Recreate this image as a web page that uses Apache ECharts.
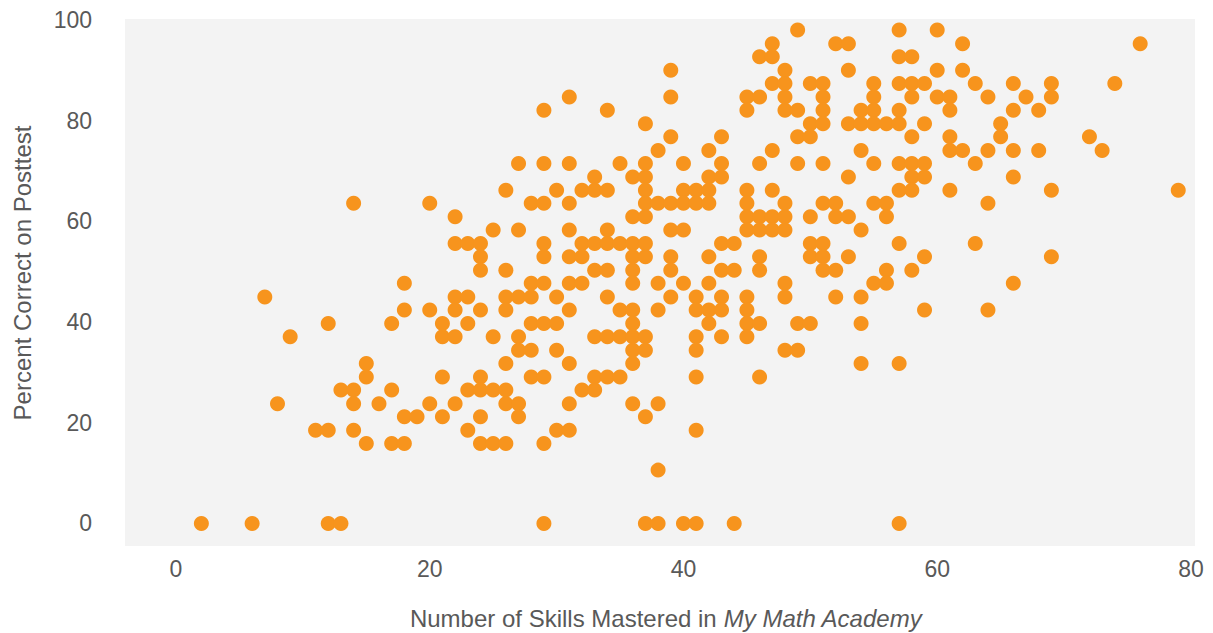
<!DOCTYPE html>
<html>
<head>
<meta charset="utf-8">
<script src="https://cdn.jsdelivr.net/npm/echarts@6/dist/echarts.min.js"></script>
<style>
html,body{margin:0;padding:0;background:#fff;}
#chart{width:1213px;height:633px;}
</style>
</head>
<body>
<div id="chart"></div>
<script>
// Number of skills mastered (x) for each student, grouped by score row
const skills = [
  49,57,60,
  47,52,53,62,76,
  46,47,57,58,
  39,48,53,60,62,
  47,48,50,51,55,57,58,59,63,66,69,74,
  31,39,45,46,48,51,55,58,60,61,64,67,69,
  29,34,45,48,49,51,54,55,57,61,66,68,
  37,50,51,53,54,55,56,57,59,65,
  39,43,49,50,58,61,65,72,
  38,42,47,54,61,62,64,66,68,73,
  27,29,31,35,37,40,43,46,49,51,55,57,58,59,63,
  33,36,37,42,43,53,58,59,66,
  26,30,32,33,34,37,40,41,42,45,47,57,58,61,69,79,
  14,20,28,29,31,37,38,39,40,41,42,45,48,51,52,55,56,64,
  22,36,37,45,46,47,48,50,52,53,56,
  25,27,31,34,39,40,45,46,47,48,54,
  22,23,24,29,32,33,34,35,36,37,43,44,50,51,57,63,
  24,29,31,32,36,37,39,42,46,50,51,53,59,69,
  24,26,33,34,36,39,43,44,46,51,52,56,58,
  18,28,29,31,32,36,38,40,42,48,55,56,66,
  7,22,23,26,27,28,30,34,39,41,43,45,48,52,54,
  18,20,22,24,26,31,35,36,38,41,42,43,45,59,64,
  12,17,21,23,28,29,30,36,42,45,46,49,50,54,
  9,21,22,25,27,33,34,35,36,37,41,43,45,
  27,28,30,36,37,41,48,49,
  15,26,31,36,54,57,
  15,21,24,28,29,33,34,35,41,46,
  13,14,17,23,24,25,26,32,33,
  8,14,16,20,22,26,27,31,36,38,
  18,19,21,24,27,37,
  11,12,14,23,30,31,41,
  15,17,18,24,25,26,29,
  38,
  2,6,12,13,29,37,38,40,41,44,57
];
// Percent correct on posttest, paired with skills above
const percent = [
  98.0,98.0,98.0,
  95.3,95.3,95.3,95.3,95.3,
  92.7,92.7,92.7,92.7,
  90.0,90.0,90.0,90.0,90.0,
  87.4,87.4,87.4,87.4,87.4,87.4,87.4,87.4,87.4,87.4,87.4,87.4,
  84.7,84.7,84.7,84.7,84.7,84.7,84.7,84.7,84.7,84.7,84.7,84.7,84.7,
  82.1,82.1,82.1,82.1,82.1,82.1,82.1,82.1,82.1,82.1,82.1,82.1,
  79.4,79.4,79.4,79.4,79.4,79.4,79.4,79.4,79.4,79.4,
  76.8,76.8,76.8,76.8,76.8,76.8,76.8,76.8,
  74.1,74.1,74.1,74.1,74.1,74.1,74.1,74.1,74.1,74.1,
  71.5,71.5,71.5,71.5,71.5,71.5,71.5,71.5,71.5,71.5,71.5,71.5,71.5,71.5,71.5,
  68.8,68.8,68.8,68.8,68.8,68.8,68.8,68.8,68.8,
  66.2,66.2,66.2,66.2,66.2,66.2,66.2,66.2,66.2,66.2,66.2,66.2,66.2,66.2,66.2,66.2,
  63.6,63.6,63.6,63.6,63.6,63.6,63.6,63.6,63.6,63.6,63.6,63.6,63.6,63.6,63.6,63.6,63.6,63.6,
  60.9,60.9,60.9,60.9,60.9,60.9,60.9,60.9,60.9,60.9,60.9,
  58.3,58.3,58.3,58.3,58.3,58.3,58.3,58.3,58.3,58.3,58.3,
  55.6,55.6,55.6,55.6,55.6,55.6,55.6,55.6,55.6,55.6,55.6,55.6,55.6,55.6,55.6,55.6,
  53.0,53.0,53.0,53.0,53.0,53.0,53.0,53.0,53.0,53.0,53.0,53.0,53.0,53.0,
  50.3,50.3,50.3,50.3,50.3,50.3,50.3,50.3,50.3,50.3,50.3,50.3,50.3,
  47.7,47.7,47.7,47.7,47.7,47.7,47.7,47.7,47.7,47.7,47.7,47.7,47.7,
  45.0,45.0,45.0,45.0,45.0,45.0,45.0,45.0,45.0,45.0,45.0,45.0,45.0,45.0,45.0,
  42.4,42.4,42.4,42.4,42.4,42.4,42.4,42.4,42.4,42.4,42.4,42.4,42.4,42.4,42.4,
  39.7,39.7,39.7,39.7,39.7,39.7,39.7,39.7,39.7,39.7,39.7,39.7,39.7,39.7,
  37.1,37.1,37.1,37.1,37.1,37.1,37.1,37.1,37.1,37.1,37.1,37.1,37.1,
  34.4,34.4,34.4,34.4,34.4,34.4,34.4,34.4,
  31.8,31.8,31.8,31.8,31.8,31.8,
  29.1,29.1,29.1,29.1,29.1,29.1,29.1,29.1,29.1,29.1,
  26.5,26.5,26.5,26.5,26.5,26.5,26.5,26.5,26.5,
  23.8,23.8,23.8,23.8,23.8,23.8,23.8,23.8,23.8,23.8,
  21.2,21.2,21.2,21.2,21.2,21.2,
  18.5,18.5,18.5,18.5,18.5,18.5,18.5,
  15.9,15.9,15.9,15.9,15.9,15.9,15.9,
  10.6,
  0,0,0,0,0,0,0,0,0,0,0
];
const xTicks = [0, 20, 40, 60, 80];
const yTicks = [0, 20, 40, 60, 80, 100];

if (skills.length !== percent.length) {
  throw new Error('length mismatch ' + skills.length + ' vs ' + percent.length);
}
const points = skills.map((s, i) => [s, percent[i]]);

const font = '"Liberation Sans", Arial, sans-serif';
const chart = echarts.init(document.getElementById('chart'), null, {renderer: 'svg'});
chart.setOption({
  animation: false,
  backgroundColor: '#ffffff',
  grid: {
    left: 125, top: 19, right: 18, bottom: 87,
    outerBoundsMode: 'none',
    containLabel: false,
    show: true, backgroundColor: '#f3f3f3', borderWidth: 0
  },
  xAxis: {
    type: 'value',
    min: -4.02, max: 80.32,
    axisLine: {show: false},
    axisTick: {show: false},
    splitLine: {show: false},
    axisLabel: {
      customValues: xTicks,
      color: '#595959', fontSize: 23, fontFamily: font, margin: 11
    },
    name: 'Number of Skills Mastered in {i|My Math Academy}',
    nameLocation: 'middle',
    nameGap: 60,
    nameTextStyle: {
      color: '#595959', fontSize: 24, fontFamily: font, padding: [0, 0, 0, 12],
      rich: {i: {fontStyle: 'italic', color: '#595959', fontSize: 24, fontFamily: font}}
    }
  },
  yAxis: {
    type: 'value',
    min: -4.47, max: 100.2,
    axisLine: {show: false},
    axisTick: {show: false},
    splitLine: {show: false},
    axisLabel: {
      customValues: yTicks,
      color: '#595959', fontSize: 23, fontFamily: font, margin: 33
    },
    name: 'Percent Correct on Posttest',
    nameLocation: 'middle',
    nameGap: 91,
    nameTextStyle: {
      color: '#595959', fontSize: 24, fontFamily: font, padding: [0, 0, 0, 19]
    }
  },
  series: [{
    type: 'scatter',
    data: points,
    symbol: 'circle',
    symbolSize: 15,
    itemStyle: {color: '#F7941D', opacity: 1},
    emphasis: {disabled: true}
  }]
});
</script>
</body>
</html>
